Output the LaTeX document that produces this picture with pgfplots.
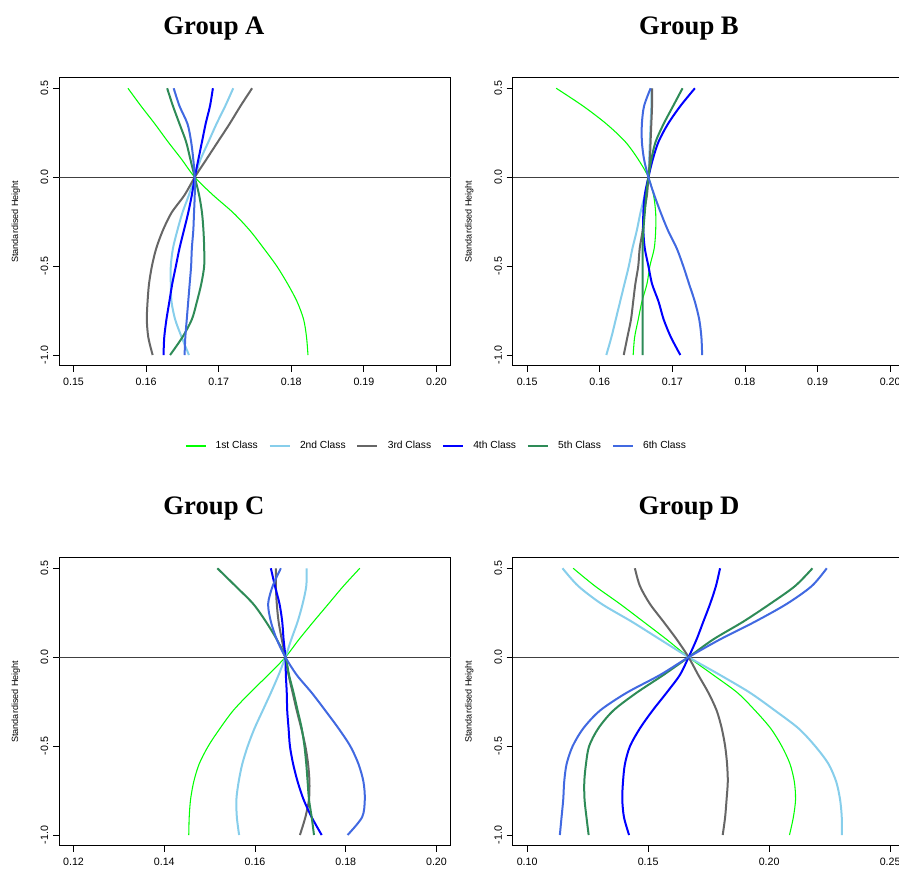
\documentclass[border=0pt]{standalone}
\usepackage{pgfplots}
\usepackage{pgfplotstable}
\usepackage{fontspec}
\setmainfont{Liberation Sans}
\newfontfamily\titlefont{Liberation Serif}
\pgfplotsset{compat=1.18}

\definecolor{cA}{HTML}{00FF00}
\definecolor{cB}{HTML}{87CEEB}
\definecolor{cC}{HTML}{666666}
\definecolor{cD}{HTML}{0000FF}
\definecolor{cE}{HTML}{2E8B57}
\definecolor{cF}{HTML}{4169E1}

\pgfplotstableread{
h c1 c2 c3 c4 c5 c6
0.5 0.1575 0.1720 0.1746 0.1692 0.1629 0.1638
0.4 0.1593 0.1709 0.1730 0.1688 0.1637 0.1646
0.3 0.1612 0.1697 0.1715 0.1682 0.1646 0.1657
0.2 0.1630 0.1686 0.1699 0.1677 0.1655 0.1662
0.1 0.1649 0.1675 0.1683 0.1672 0.1661 0.1665
0.0 0.1667 0.1667 0.1667 0.1667 0.1667 0.1667
-0.1 0.1692 0.1659 0.1653 0.1663 0.1673 0.1667
-0.2 0.1720 0.1650 0.1635 0.1658 0.1677 0.1666
-0.3 0.1743 0.1643 0.1623 0.1652 0.1679 0.1665
-0.4 0.1762 0.1637 0.1614 0.1646 0.1680 0.1663
-0.5 0.1780 0.1634 0.1608 0.1641 0.1680 0.1662
-0.6 0.1795 0.1634 0.1604 0.1636 0.1676 0.1660
-0.7 0.1808 0.1635 0.1602 0.1632 0.1670 0.1658
-0.8 0.1817 0.1640 0.1601 0.1628 0.1663 0.1656
-0.9 0.1821 0.1649 0.1603 0.1625 0.1650 0.1654
-1.0 0.1823 0.1659 0.1609 0.1624 0.1633 0.1653
}\dataA

\pgfplotstableread{
h c1 c2 c3 c4 c5 c6
0.5 0.1540 0.1671 0.1672 0.1731 0.1714 0.1670
0.4 0.1577 0.1671 0.1672 0.1711 0.1701 0.1661
0.3 0.1609 0.1670 0.1671 0.1694 0.1688 0.1658
0.2 0.1635 0.1669 0.1670 0.1681 0.1677 0.1658
0.1 0.1653 0.1668 0.1669 0.1673 0.1671 0.1661
0.0 0.1667 0.1667 0.1667 0.1667 0.1667 0.1667
-0.1 0.1674 0.1662 0.1665 0.1662 0.1664 0.1675
-0.2 0.1677 0.1656 0.1661 0.1660 0.1662 0.1684
-0.3 0.1677 0.1651 0.1659 0.1660 0.1660 0.1694
-0.4 0.1675 0.1645 0.1655 0.1662 0.1659 0.1706
-0.5 0.1669 0.1640 0.1653 0.1667 0.1659 0.1715
-0.6 0.1665 0.1634 0.1649 0.1672 0.1659 0.1723
-0.7 0.1658 0.1628 0.1646 0.1681 0.1659 0.1731
-0.8 0.1653 0.1622 0.1643 0.1688 0.1659 0.1737
-0.9 0.1648 0.1616 0.1638 0.1698 0.1659 0.1740
-1.0 0.1646 0.1609 0.1633 0.1711 0.1659 0.1741
}\dataB

\pgfplotstableread{
h c1 c2 c3 c4 c5 c6
0.5 0.1831 0.1714 0.1646 0.1635 0.1517 0.1657
0.4 0.1795 0.1713 0.1646 0.1644 0.1557 0.1639
0.3 0.1762 0.1705 0.1648 0.1654 0.1596 0.1629
0.2 0.1729 0.1694 0.1652 0.1660 0.1624 0.1635
0.1 0.1697 0.1680 0.1659 0.1663 0.1648 0.1648
0.0 0.1667 0.1667 0.1667 0.1667 0.1667 0.1667
-0.1 0.1629 0.1652 0.1674 0.1668 0.1675 0.1692
-0.2 0.1589 0.1635 0.1683 0.1670 0.1685 0.1725
-0.3 0.1552 0.1617 0.1692 0.1671 0.1694 0.1755
-0.4 0.1523 0.1599 0.1702 0.1674 0.1703 0.1784
-0.5 0.1497 0.1584 0.1711 0.1677 0.1709 0.1810
-0.6 0.1477 0.1572 0.1717 0.1684 0.1713 0.1828
-0.7 0.1465 0.1564 0.1720 0.1694 0.1716 0.1839
-0.8 0.1458 0.1559 0.1719 0.1707 0.1719 0.1842
-0.9 0.1455 0.1560 0.1711 0.1725 0.1725 0.1836
-1.0 0.1454 0.1565 0.1699 0.1747 0.1730 0.1804
}\dataC

\pgfplotstableread{
h c1 c2 c3 c4 c5 c6
0.5 0.1190 0.1146 0.1445 0.1797 0.2179 0.2238
0.4 0.1280 0.1211 0.1466 0.1780 0.2107 0.2176
0.3 0.1383 0.1307 0.1507 0.1756 0.2004 0.2073
0.2 0.1480 0.1432 0.1563 0.1728 0.1893 0.1942
0.1 0.1576 0.1549 0.1618 0.1700 0.1769 0.1797
0.0 0.1667 0.1667 0.1667 0.1667 0.1667 0.1667
-0.1 0.1769 0.1797 0.1707 0.1631 0.1563 0.1549
-0.2 0.1869 0.1921 0.1749 0.1576 0.1452 0.1411
-0.3 0.1942 0.2024 0.1783 0.1518 0.1356 0.1301
-0.4 0.2006 0.2121 0.1804 0.1466 0.1294 0.1232
-0.5 0.2052 0.2190 0.1818 0.1425 0.1256 0.1188
-0.6 0.2086 0.2245 0.1826 0.1404 0.1243 0.1163
-0.7 0.2104 0.2277 0.1829 0.1396 0.1236 0.1153
-0.8 0.2109 0.2293 0.1824 0.1393 0.1237 0.1149
-0.9 0.2100 0.2300 0.1818 0.1400 0.1245 0.1142
-1.0 0.2084 0.2300 0.1808 0.1421 0.1254 0.1135
}\dataD

\pgfplotsset{
  panel/.style={
    scale only axis, width=294pt, height=216.07pt,
    ymin=-1.06, ymax=0.56, ytick={-1,-0.5,0,0.5},
    tick align=outside, tick pos=left, major tick length=4.5pt,
    minor tick num=0,
    axis line style={line width=0.75pt, black},
    every tick/.style={line width=0.6pt, black},
    /pgf/number format/assume math mode=true,
    tick label style={font=\fontsize{8}{9}\selectfont},
    xticklabel style={yshift=-1.5pt, /pgf/number format/.cd, fixed, fixed zerofill, precision=2},
    yticklabel style={/pgf/number format/.cd, fixed, fixed zerofill, precision=1, /tikz/.cd, rotate=90, anchor=south},
    scaled x ticks=false, scaled y ticks=false,
    ylabel={Standardised Height},
    ylabel style={at={(rel axis cs:-0.1105,0.5)}, anchor=center, rotate=0, font=\fontsize{6.8}{8}\selectfont},
    clip=false,
  },
  thickl/.style={line width=1.5pt, smooth},
  thinl/.style={line width=0.8pt, smooth},
}

\begin{document}
\begin{tikzpicture}
\path[use as bounding box] (0,0) rectangle (674.25pt,653.25pt);

\begin{axis}[panel, at={(44.25pt,378.98pt)}, anchor=south west,
  xmin=0.148, xmax=0.202, xtick={0.15,0.16,0.17,0.18,0.19,0.20},
  legend style={at={(rel axis cs:0.3214,-0.2787)}, anchor=west, draw=none, fill=none,
    inner sep=0pt, legend columns=6, font=\fontsize{7.7}{9}\selectfont,
    /tikz/every odd column/.append style={column sep=5pt},
    /tikz/every even column/.append style={column sep=6.1pt}},
  legend image code/.code={\draw[#1] (0pt,0pt) -- (15pt,0pt);},
  legend cell align=left]
\addplot[black!75, line width=0.7pt, forget plot] coordinates {(0.148,0) (0.202,0)};
\addplot[cA, thinl] table[x=c1, y=h] {\dataA}; \addlegendentry{1st Class}
\addplot[cB, thickl] table[x=c2, y=h] {\dataA}; \addlegendentry{2nd Class}
\addplot[cC, thickl] table[x=c3, y=h] {\dataA}; \addlegendentry{3rd Class}
\addplot[cD, thickl] table[x=c4, y=h] {\dataA}; \addlegendentry{4th Class}
\addplot[cE, thickl] table[x=c5, y=h] {\dataA}; \addlegendentry{5th Class}
\addplot[cF, thickl] table[x=c6, y=h] {\dataA}; \addlegendentry{6th Class}
\end{axis}

\begin{axis}[panel, at={(384.5pt,378.98pt)}, anchor=south west,
  xmin=0.148, xmax=0.202, xtick={0.15,0.16,0.17,0.18,0.19,0.20}]
\addplot[black!75, line width=0.7pt] coordinates {(0.148,0) (0.202,0)};
\addplot[cA, thinl] table[x=c1, y=h] {\dataB};
\addplot[cB, thickl] table[x=c2, y=h] {\dataB};
\addplot[cC, thickl] table[x=c3, y=h] {\dataB};
\addplot[cD, thickl] table[x=c4, y=h] {\dataB};
\addplot[cE, thickl] table[x=c5, y=h] {\dataB};
\addplot[cF, thickl] table[x=c6, y=h] {\dataB};
\end{axis}

\begin{axis}[panel, at={(44.25pt,18.98pt)}, anchor=south west,
  xmin=0.1168, xmax=0.2032, xtick={0.12,0.14,0.16,0.18,0.20}]
\addplot[black!75, line width=0.7pt] coordinates {(0.1168,0) (0.2032,0)};
\addplot[cA, thinl] table[x=c1, y=h] {\dataC};
\addplot[cB, thickl] table[x=c2, y=h] {\dataC};
\addplot[cC, thickl] table[x=c3, y=h] {\dataC};
\addplot[cD, thickl] table[x=c4, y=h] {\dataC};
\addplot[cE, thickl] table[x=c5, y=h] {\dataC};
\addplot[cF, thickl] table[x=c6, y=h] {\dataC};
\end{axis}

\begin{axis}[panel, at={(384.5pt,18.98pt)}, anchor=south west,
  xmin=0.094, xmax=0.256, xtick={0.10,0.15,0.20,0.25}]
\addplot[black!75, line width=0.7pt] coordinates {(0.094,0) (0.256,0)};
\addplot[cA, thinl] table[x=c1, y=h] {\dataD};
\addplot[cB, thickl] table[x=c2, y=h] {\dataD};
\addplot[cC, thickl] table[x=c3, y=h] {\dataD};
\addplot[cD, thickl] table[x=c4, y=h] {\dataD};
\addplot[cE, thickl] table[x=c5, y=h] {\dataD};
\addplot[cF, thickl] table[x=c6, y=h] {\dataD};
\end{axis}

\node[anchor=base, font=\titlefont\bfseries\fontsize{20}{24}\selectfont] at (160.5pt,627pt) {Group A};
\node[anchor=base, font=\titlefont\bfseries\fontsize{20}{24}\selectfont] at (516.75pt,627pt) {Group B};
\node[anchor=base, font=\titlefont\bfseries\fontsize{20}{24}\selectfont] at (160.5pt,267pt) {Group C};
\node[anchor=base, font=\titlefont\bfseries\fontsize{20}{24}\selectfont] at (516.75pt,267pt) {Group D};
\end{tikzpicture}
\end{document}
